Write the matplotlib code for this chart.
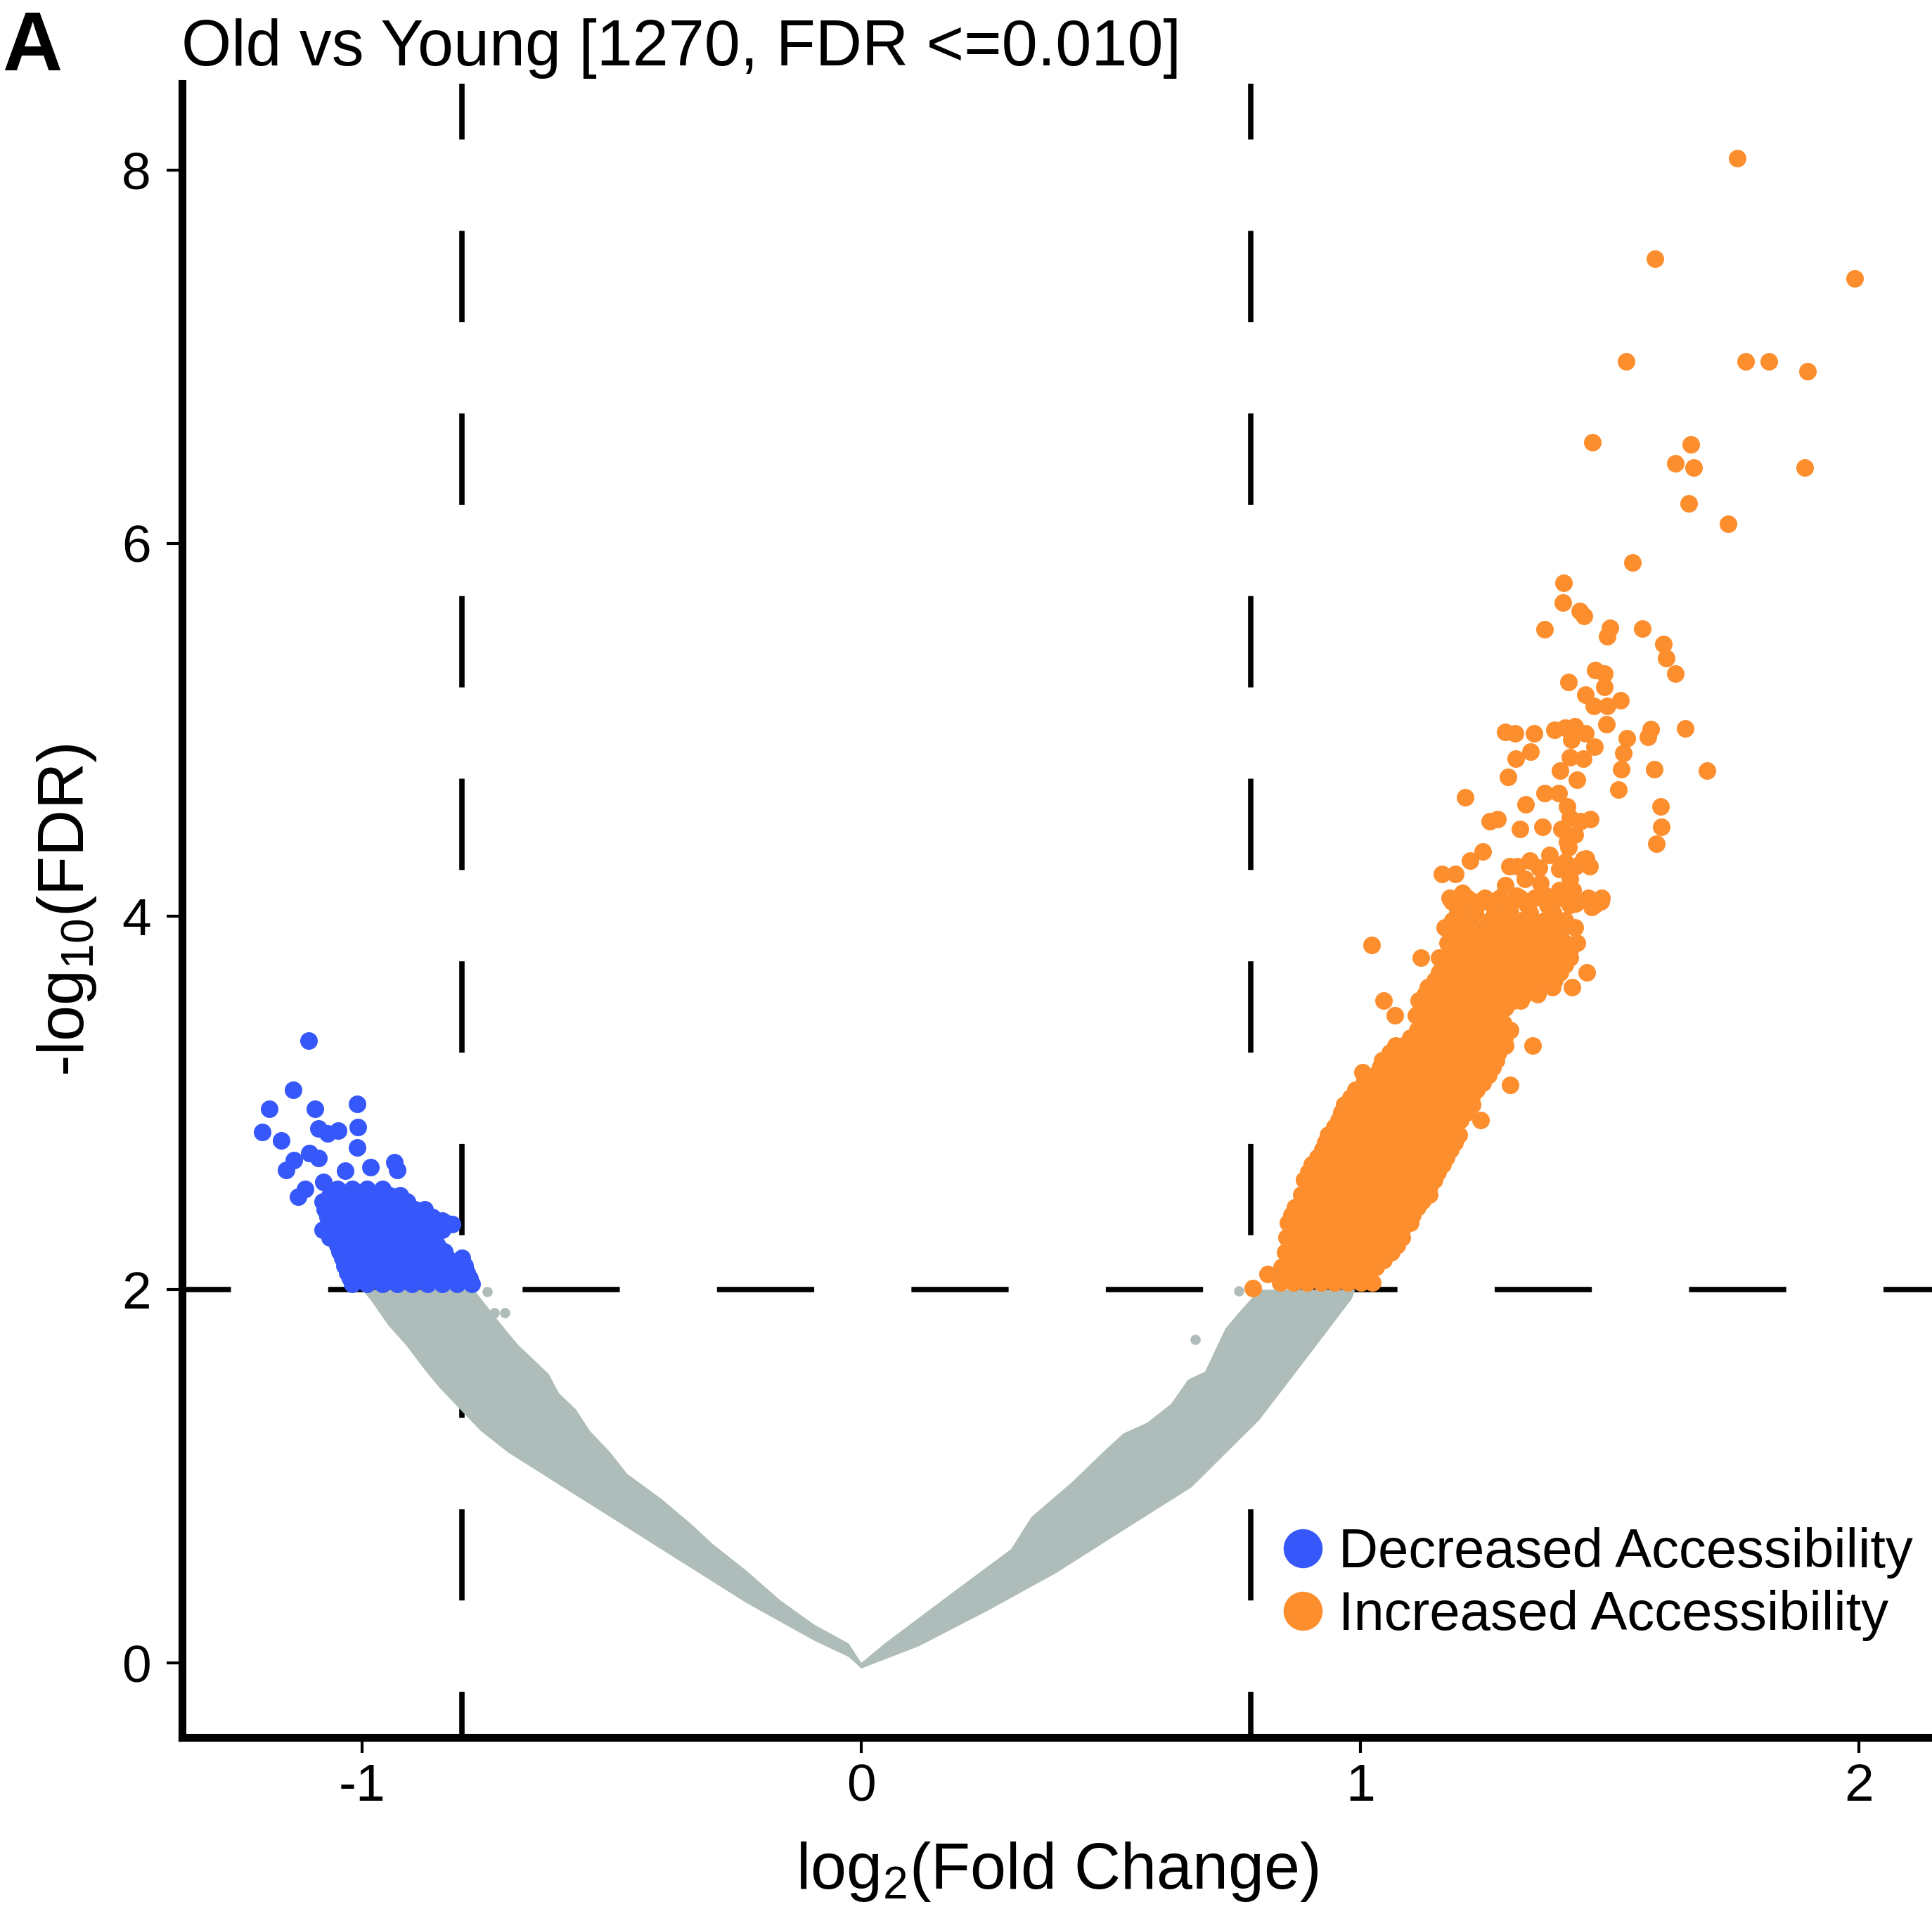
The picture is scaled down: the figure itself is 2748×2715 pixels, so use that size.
import matplotlib
matplotlib.use("Agg")
import matplotlib.pyplot as plt
from matplotlib.lines import Line2D

plt.rcParams['font.family'] = ['Liberation Sans', 'DejaVu Sans']
plt.rcParams['mathtext.fontset'] = 'custom'
plt.rcParams['mathtext.rm'] = 'Liberation Sans'
plt.rcParams['mathtext.it'] = 'Liberation Sans:italic'
plt.rcParams['mathtext.bf'] = 'Liberation Sans:bold'
plt.rcParams['axes.unicode_minus'] = False

# ---------------- text / scales ----------------
PANEL = "A"
TITLE = "Old vs Young [1270, FDR <=0.010]"
XLABEL = r"log$_{2}$(Fold Change)"
YLABEL = r"-log$_{10}$(FDR)"
X_TICKS = [-1, 0, 1, 2]
Y_TICKS = [0, 2, 4, 6, 8]
FC_CUTS = [-0.8, 0.78]
FDR_CUT = 2.0
LEGEND_LABELS = ["Decreased Accessibility", "Increased Accessibility"]

# ---------------- decreased (blue) points: scattered ones ----------------
blue_x = [-1.107, -1.138, -1.187, -1.095, -1.011, -1.200, -1.088, -1.069, -1.048, -1.009,
          -1.163, -1.010, -1.106, -1.088, -1.137, -1.153, -0.935, -0.930, -1.034, -0.984,
          -1.115, -1.129, -1.078, -1.069, -0.84, -0.82]
blue_y = [3.335, 3.070, 2.969, 2.968, 2.997, 2.844, 2.863, 2.838, 2.854, 2.872,
          2.800, 2.762, 2.730, 2.705, 2.693, 2.643, 2.681, 2.640, 2.637, 2.656,
          2.540, 2.500, 2.576, 2.455, 2.37, 2.35]
# dense blue cluster, one row per y level
blue_row_y = [2.54, 2.505, 2.47, 2.43, 2.39, 2.355, 2.32, 2.28, 2.24, 2.205, 2.17, 2.13,
              2.09, 2.06, 2.03]
blue_row_x = [
    [-1.05, -1.02, -0.99, -0.96],
    [-1.065, -1.035, -1.005, -0.975, -0.945, -0.925],
    [-1.08, -1.05, -1.02, -0.99, -0.96, -0.94, -0.91],
    [-1.075, -1.045, -1.015, -0.985, -0.955, -0.925, -0.895, -0.875],
    [-1.07, -1.04, -1.01, -0.98, -0.95, -0.92, -0.89, -0.86],
    [-1.065, -1.035, -1.005, -0.975, -0.945, -0.915, -0.885, -0.855, -0.83],
    [-1.08, -1.05, -1.02, -0.99, -0.96, -0.93, -0.90, -0.87, -0.84],
    [-1.065, -1.035, -1.005, -0.975, -0.945, -0.915, -0.885, -0.855],
    [-1.05, -1.02, -0.99, -0.96, -0.93, -0.90, -0.87, -0.85],
    [-1.045, -1.015, -0.985, -0.955, -0.925, -0.895, -0.865, -0.835],
    [-1.04, -1.01, -0.98, -0.95, -0.92, -0.89, -0.86, -0.83, -0.80],
    [-1.035, -1.005, -0.975, -0.945, -0.915, -0.885, -0.855, -0.825, -0.795],
    [-1.03, -1.00, -0.97, -0.94, -0.91, -0.88, -0.85, -0.82, -0.79],
    [-1.025, -0.995, -0.965, -0.935, -0.905, -0.875, -0.845, -0.815, -0.785],
    [-1.02, -0.99, -0.96, -0.93, -0.90, -0.87, -0.84, -0.81, -0.78],
]

# ---------------- increased (orange) points: dense core, one row per y level ----------------
orange_row_y = [2.04, 2.08, 2.12, 2.16, 2.20, 2.24, 2.28, 2.32, 2.36, 2.40, 2.44, 2.475,
                2.51, 2.55, 2.59, 2.63, 2.67, 2.71, 2.75, 2.79, 2.83, 2.87, 2.91, 2.95,
                2.99, 3.03, 3.07, 3.11, 3.15, 3.19, 3.23, 3.27, 3.31, 3.35, 3.39, 3.43,
                3.47, 3.51, 3.55, 3.585, 3.62, 3.66, 3.70, 3.74, 3.78, 3.82, 3.86, 3.90,
                3.94, 3.98, 4.02, 4.06, 4.10]
orange_row_x = [
    [0.840, 0.867, 0.894, 0.921, 0.948, 0.975, 1.002, 1.025],
    [0.855, 0.882, 0.909, 0.936, 0.963, 0.990, 1.017],
    [0.843, 0.870, 0.897, 0.924, 0.951, 0.978, 1.005, 1.032],
    [0.858, 0.885, 0.912, 0.939, 0.966, 0.993, 1.020, 1.047],
    [0.850, 0.877, 0.904, 0.931, 0.958, 0.985, 1.012, 1.039, 1.062],
    [0.865, 0.892, 0.919, 0.946, 0.973, 1.000, 1.027, 1.054, 1.073],
    [0.852, 0.879, 0.906, 0.933, 0.960, 0.987, 1.014, 1.041, 1.068, 1.084],
    [0.868, 0.895, 0.922, 0.949, 0.976, 1.003, 1.030, 1.057, 1.084],
    [0.855, 0.882, 0.909, 0.936, 0.963, 0.990, 1.017, 1.044, 1.071, 1.100],
    [0.862, 0.889, 0.916, 0.943, 0.970, 0.997, 1.024, 1.051, 1.078, 1.105],
    [0.870, 0.897, 0.924, 0.951, 0.978, 1.005, 1.032, 1.059, 1.086, 1.115],
    [0.884, 0.911, 0.938, 0.965, 0.992, 1.019, 1.046, 1.073, 1.100, 1.125],
    [0.882, 0.909, 0.936, 0.963, 0.990, 1.017, 1.044, 1.071, 1.098, 1.125, 1.138],
    [0.895, 0.922, 0.949, 0.976, 1.003, 1.030, 1.057, 1.084, 1.111, 1.138],
    [0.888, 0.915, 0.942, 0.969, 0.996, 1.023, 1.050, 1.077, 1.104, 1.131, 1.148],
    [0.896, 0.923, 0.950, 0.977, 1.004, 1.031, 1.058, 1.085, 1.112, 1.139, 1.156],
    [0.903, 0.930, 0.957, 0.984, 1.011, 1.038, 1.065, 1.092, 1.119, 1.146, 1.165],
    [0.915, 0.942, 0.969, 0.996, 1.023, 1.050, 1.077, 1.104, 1.131, 1.158, 1.172],
    [0.925, 0.952, 0.979, 1.006, 1.033, 1.060, 1.087, 1.114, 1.141, 1.168, 1.181],
    [0.930, 0.957, 0.984, 1.011, 1.038, 1.065, 1.092, 1.119, 1.146, 1.173, 1.189],
    [0.936, 0.963, 0.990, 1.017, 1.044, 1.071, 1.098, 1.125, 1.152, 1.179, 1.197],
    [0.948, 0.975, 1.002, 1.029, 1.056, 1.083, 1.110, 1.137, 1.164, 1.191],
    [0.957, 0.984, 1.011, 1.038, 1.065, 1.092, 1.119, 1.146, 1.173, 1.200, 1.241],
    [0.962, 0.989, 1.016, 1.043, 1.070, 1.097, 1.124, 1.151, 1.178, 1.205, 1.215],
    [0.968, 0.995, 1.022, 1.049, 1.076, 1.103, 1.130, 1.157, 1.184, 1.211, 1.225],
    [0.980, 1.007, 1.034, 1.061, 1.088, 1.115, 1.142, 1.169, 1.196, 1.223],
    [0.990, 1.017, 1.044, 1.071, 1.098, 1.125, 1.152, 1.179, 1.206, 1.233],
    [1.008, 1.035, 1.062, 1.089, 1.116, 1.143, 1.170, 1.197, 1.224, 1.246],
    [1.030, 1.057, 1.084, 1.111, 1.138, 1.165, 1.192, 1.219, 1.246, 1.257],
    [1.040, 1.067, 1.094, 1.121, 1.148, 1.175, 1.202, 1.229, 1.256, 1.265],
    [1.044, 1.071, 1.098, 1.125, 1.152, 1.179, 1.206, 1.233, 1.260, 1.273],
    [1.060, 1.087, 1.114, 1.141, 1.168, 1.195, 1.222, 1.249, 1.276],
    [1.071, 1.087, 1.117, 1.141, 1.168, 1.195, 1.222, 1.249, 1.276, 1.290, 1.346],
    [1.100, 1.127, 1.154, 1.181, 1.208, 1.235, 1.262, 1.289],
    [1.114, 1.141, 1.168, 1.195, 1.222, 1.249, 1.276, 1.300],
    [1.125, 1.152, 1.179, 1.206, 1.233, 1.260, 1.287],
    [1.069, 1.112, 1.139, 1.166, 1.193, 1.220, 1.247, 1.274],
    [1.125, 1.152, 1.179, 1.206, 1.233, 1.260, 1.290],
    [1.047, 1.118, 1.145, 1.172, 1.199, 1.226, 1.253, 1.280, 1.307, 1.322],
    [1.130, 1.160, 1.190, 1.215, 1.240, 1.270, 1.300, 1.330, 1.355],
    [1.135, 1.165, 1.195, 1.225, 1.255, 1.285, 1.315, 1.345, 1.385, 1.424],
    [1.150, 1.180, 1.210, 1.240, 1.270, 1.300, 1.330, 1.360, 1.390],
    [1.158, 1.188, 1.218, 1.248, 1.278, 1.308, 1.338, 1.368, 1.400, 1.454],
    [1.165, 1.195, 1.225, 1.255, 1.290, 1.320, 1.350, 1.380, 1.410],
    [1.122, 1.158, 1.170, 1.200, 1.235, 1.265, 1.300, 1.330, 1.365, 1.395, 1.420],
    [1.185, 1.215, 1.250, 1.285, 1.315, 1.350, 1.385, 1.420],
    [1.175, 1.205, 1.240, 1.275, 1.305, 1.340, 1.375, 1.410, 1.435],
    [1.190, 1.225, 1.260, 1.295, 1.330, 1.365, 1.400],
    [1.170, 1.205, 1.250, 1.285, 1.310, 1.350, 1.390, 1.430],
    [1.185, 1.220, 1.260, 1.290, 1.325, 1.370, 1.410],
    [1.195, 1.230, 1.270, 1.300, 1.340, 1.387],
    [1.200, 1.235, 1.265, 1.300, 1.335, 1.375, 1.420, 1.470],
    [1.180, 1.215, 1.250, 1.280, 1.320, 1.350, 1.400, 1.457, 1.484],
]

# ---------------- increased (orange) points: individual / sparse ones ----------------
orange_x = [0.785, 0.815, 1.023, 1.004, 0.933, 0.907, 1.300,
            1.164, 1.191, 1.299, 1.315, 1.358, 1.399, 1.431, 1.447,
            1.183, 1.205, 1.226, 1.248, 1.291, 1.313, 1.361, 1.372, 1.399, 1.426, 1.431, 1.464, 1.482,
            1.340, 1.380, 1.410, 1.420, 1.330, 1.220, 1.460, 1.430, 1.400, 1.370,
            1.210, 1.259, 1.275, 1.320, 1.366, 1.245, 1.461, 1.453,
            1.398, 1.414, 1.420, 1.442, 1.404, 1.414, 1.418,
            1.434, 1.296, 1.312, 1.342, 1.331,
            1.590, 1.695, 1.651, 1.582, 1.577,
            1.534, 1.528, 1.523, 1.517,
            1.423, 1.420, 1.447,
            1.291, 1.311, 1.349, 1.390, 1.410, 1.430, 1.452, 1.469, 1.493,
            1.452, 1.468, 1.495, 1.522,
            1.418, 1.471, 1.489, 1.489,
            1.608, 1.614, 1.631,
            1.566, 1.500, 1.495, 1.370,
            1.440, 1.449, 1.406, 1.408, 1.546,
            1.602, 1.604, 1.593,
            1.659, 1.737, 1.466, 1.663, 1.631, 1.668, 1.891,
            1.533, 1.772, 1.819, 1.897, 1.591, 1.991, 1.755]
orange_y = [2.010, 2.082, 3.848, 3.164, 2.788, 2.673, 3.099,
            4.226, 4.226, 4.269, 4.269, 4.262, 4.255, 4.269, 4.305,
            4.082, 4.125, 4.082, 4.096, 4.168, 4.110, 4.180, 4.110, 4.140, 4.140, 4.070, 4.050, 4.080,
            4.300, 4.330, 4.290, 4.200, 4.200, 4.300, 4.270, 4.440, 4.780, 4.660,
            4.637, 4.510, 4.520, 4.470, 4.480, 4.350, 4.520, 4.310,
            4.660, 4.590, 4.530, 4.510, 4.470, 4.400, 4.370,
            4.731, 4.748, 4.846, 4.882, 4.601,
            4.788, 4.781, 5.007, 5.004, 4.961,
            4.954, 4.875, 4.788, 4.680,
            4.947, 4.853, 4.846,
            4.990, 4.980, 4.980, 5.000, 5.010, 5.020, 4.980, 4.910, 5.030,
            5.190, 5.130, 5.130, 5.160,
            5.258, 5.320, 5.300, 5.230,
            5.460, 5.385, 5.302,
            5.541, 5.545, 5.500, 5.540,
            5.638, 5.611, 5.681, 5.787, 5.895,
            4.590, 4.480, 4.390,
            6.215, 6.104, 6.540, 6.530, 6.429, 6.404, 6.404,
            6.973, 6.973, 6.973, 6.923, 7.525, 7.419, 8.063]

# ---------------- not significant (grey) cloud: band edges ----------------
grey_left_upper_x = [-1.000, -0.776, -0.749, -0.715, -0.688, -0.654, -0.626, -0.606, -0.572, -0.544,
                     -0.503, -0.469, -0.401, -0.339, -0.298, -0.230, -0.162, -0.094, -0.025, 0.000]
grey_left_upper_y = [2.000, 2.000, 1.907, 1.792, 1.705, 1.619, 1.547, 1.446, 1.359, 1.244,
                     1.128, 1.013, 0.880, 0.740, 0.638, 0.494, 0.335, 0.205, 0.104, 0.000]
grey_left_lower_x = [-1.000, -0.981, -0.947, -0.913, -0.872, -0.845, -0.804, -0.763, -0.708, -0.640,
                     -0.572, -0.503, -0.435, -0.367, -0.298, -0.230, -0.162, -0.094, -0.025, 0.000]
grey_left_lower_y = [2.000, 1.936, 1.806, 1.705, 1.561, 1.474, 1.359, 1.244, 1.128, 1.013,
                     0.898, 0.782, 0.667, 0.552, 0.436, 0.321, 0.220, 0.119, 0.032, -0.030]
grey_right_upper_x = [0.000, 0.047, 0.184, 0.300, 0.341, 0.423, 0.484, 0.525, 0.573, 0.621,
                      0.655, 0.689, 0.730, 0.757, 0.798, 0.990]
grey_right_upper_y = [0.000, 0.104, 0.379, 0.609, 0.782, 0.970, 1.128, 1.229, 1.287, 1.388,
                      1.518, 1.561, 1.792, 1.878, 2.000, 2.000]
grey_right_lower_x = [0.000, 0.116, 0.252, 0.389, 0.525, 0.662, 0.798, 0.901, 0.983, 0.990]
grey_right_lower_y = [-0.030, 0.090, 0.278, 0.479, 0.710, 0.941, 1.302, 1.662, 1.950, 2.000]
grey_x = [-0.749, -0.735, -0.715, 0.669, 0.757]
grey_y = [1.990, 1.878, 1.878, 1.734, 1.995]

# ---------------- colours ----------------
C_BLUE = "#3658FA"
C_ORANGE = "#FD8E2E"
C_GREY = "#AEBCBA"

# ---------------- figure ----------------
fig = plt.figure(figsize=(27.48, 27.15), dpi=100)
ax = fig.add_axes([0.0943, 0.0899, 0.9057, 0.8663])
ax.set_xlim(-1.361, 2.146)
ax.set_ylim(-0.399, 8.463)

LW = 5.5
for xc in FC_CUTS:
    ax.axvline(xc, color="black", lw=LW, zorder=1, linestyle=(8.5, (17.0, 17.0)))
ax.axhline(FDR_CUT, color="black", lw=LW, zorder=1, linestyle=(9.0, (18.1, 18.1)))

ax.fill(grey_left_upper_x + grey_left_lower_x[::-1], grey_left_upper_y + grey_left_lower_y[::-1],
        color=C_GREY, lw=0, zorder=2)
ax.fill(grey_right_upper_x + grey_right_lower_x[::-1], grey_right_upper_y + grey_right_lower_y[::-1],
        color=C_GREY, lw=0, zorder=2)
ax.scatter(grey_x, grey_y, s=110, color=C_GREY, linewidths=0, zorder=2)

bx = [x for row in blue_row_x for x in row]
by = [y for y, row in zip(blue_row_y, blue_row_x) for _ in row]
ax.scatter(blue_x + bx, blue_y + by, s=324, color=C_BLUE, linewidths=0, zorder=3)
ox = [x for row in orange_row_x for x in row]
oy = [y for y, row in zip(orange_row_y, orange_row_x) for _ in row]
ax.scatter(ox + orange_x, oy + orange_y, s=324, color=C_ORANGE, linewidths=0, zorder=3)

for side in ["top", "right"]:
    ax.spines[side].set_visible(False)
for side in ["left", "bottom"]:
    ax.spines[side].set_linewidth(8)
ax.set_xticks(X_TICKS)
ax.set_yticks(Y_TICKS)
ax.tick_params(axis="both", length=16, width=3, labelsize=54, direction="out")
ax.tick_params(axis="x", pad=10)
ax.tick_params(axis="y", pad=16)

ax.set_xlabel(XLABEL, fontsize=66)
ax.set_ylabel(YLABEL, fontsize=66)
ax.xaxis.set_label_coords(0.5, -0.062)
ax.yaxis.set_label_coords(-0.048, 0.5)

fig.text(0.0939, 1 - 93 / 2715, TITLE, fontsize=66, ha="left", va="baseline")
fig.text(0.001, 1 - 100 / 2715, PANEL, fontsize=85, fontweight="bold", ha="left", va="baseline")

handles = [Line2D([], [], marker="o", linestyle="", markersize=40, color=C_BLUE, markeredgewidth=0),
           Line2D([], [], marker="o", linestyle="", markersize=40, color=C_ORANGE, markeredgewidth=0)]
ax.legend(handles, LEGEND_LABELS, loc="upper left", bbox_to_anchor=(0.628, 0.127),
          frameon=False, fontsize=56, handlelength=0.8, handletextpad=0.25,
          labelspacing=0.2, borderpad=0, borderaxespad=0)

fig.savefig("out.png", dpi=100)
